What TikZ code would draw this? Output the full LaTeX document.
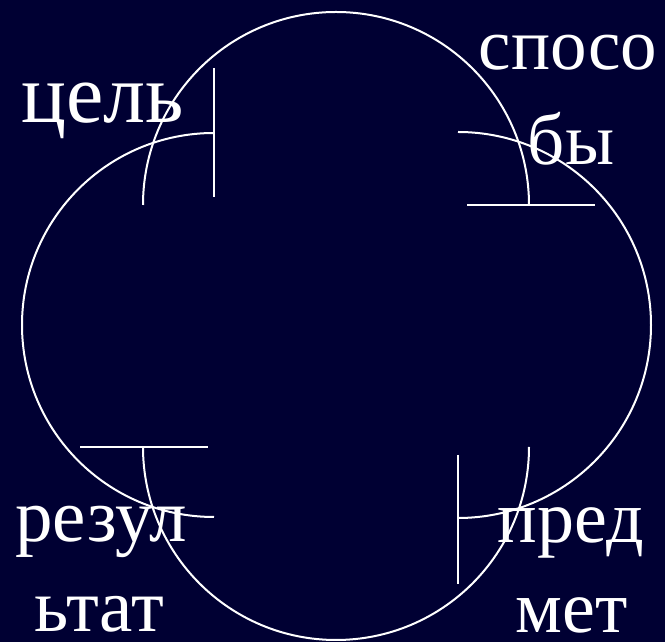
\documentclass[tikz,border=0pt]{standalone}
\usepackage{fontspec}
\setmainfont{Liberation Serif}
\definecolor{bgnavy}{HTML}{000033}
\begin{document}
\begin{tikzpicture}[x=1pt,y=1pt,
  ring/.style={draw=white,line width=2pt},
  barline/.style={draw=white,line width=2.6pt},
  lbl/.style={text=white,inner sep=0pt,anchor=base,text depth=0pt,font=\fontsize{75}{90}\selectfont}]
\fill[bgnavy] (0,0) rectangle (665,642);
\useasboundingbox (0,0) rectangle (665,642);
% arc end points
\coordinate (tS) at (143,437); \coordinate (tE) at (529,437);
\coordinate (rS) at (458,510); \coordinate (rE) at (458,124);
\coordinate (bS) at (529,195); \coordinate (bE) at (143,195);
\coordinate (lS) at (214,125); \coordinate (lE) at (214,509);
% bar ends
\coordinate (tB1) at (467,437); \coordinate (tB2) at (595,437);
\coordinate (rB1) at (458,187); \coordinate (rB2) at (458,58);
\coordinate (bB1) at (80,195);  \coordinate (bB2) at (208,195);
\coordinate (lB1) at (214,574); \coordinate (lB2) at (214,445);
% arcs
\draw[ring] (tS) arc[start angle=180,end angle=0,radius=193];
\draw[ring] (rS) arc[start angle=90,end angle=-90,radius=193];
\draw[ring] (bS) arc[start angle=0,end angle=-180,radius=193];
\draw[ring] (lS) arc[start angle=-90,end angle=-270,radius=192];
% bars
\draw[barline] (tB1) -- (tB2);
\draw[barline] (rB1) -- (rB2);
\draw[barline] (bB1) -- (bB2);
\draw[barline] (lB1) -- (lB2);
% labels
\node[lbl,font=\fontsize{84}{90}\selectfont] (goal) at (102.5,519) {цель};
\node[lbl,font=\fontsize{73}{90}\selectfont] (way1) at (568,572) {спосо};
\node[lbl,font=\fontsize{73}{90}\selectfont] (way2) at (571,477) {бы};
\node[lbl] (res1) at (101,100) {резул};
\node[lbl] (res2) at (99.5,10) {ьтат};
\node[lbl,font=\fontsize{74}{90}\selectfont] (obj1) at (571,99) {пред};
\node[lbl,font=\fontsize{74}{90}\selectfont] (obj2) at (572,9) {мет};
\end{tikzpicture}
\end{document}
